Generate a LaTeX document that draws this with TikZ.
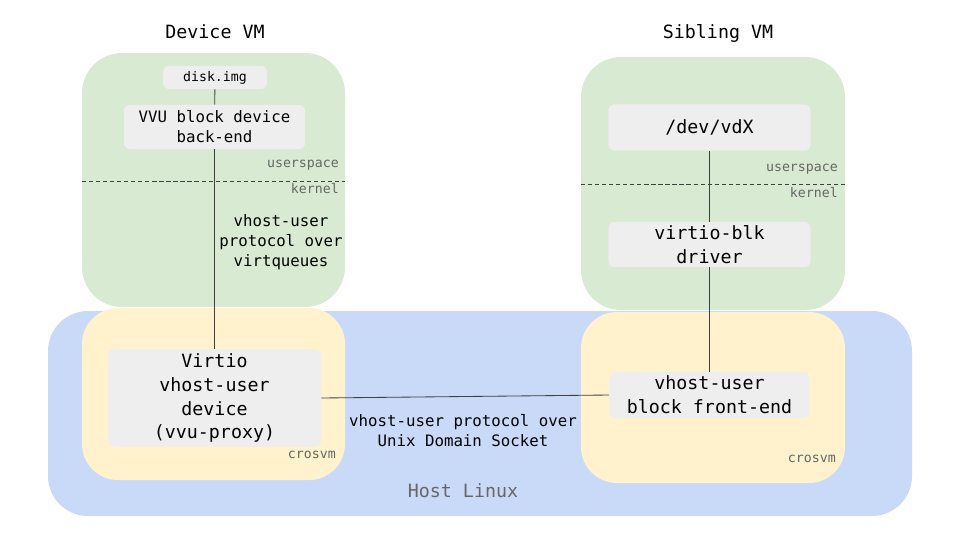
\documentclass[tikz,border=0pt]{standalone}
\usepackage{fontspec}
\setmainfont{DejaVu Sans Mono}
\definecolor{vmgreen}{HTML}{D9EAD3}
\definecolor{crosvmyellow}{HTML}{FFF2CC}
\definecolor{hostblue}{HTML}{C9DAF8}
\definecolor{blockgrey}{HTML}{EEEEEE}
\definecolor{labelgrey}{HTML}{666666}
\definecolor{linkgrey}{HTML}{404040}
\newcommand{\diagbig}{\fontsize{13}{17}\selectfont}
\newcommand{\diagmid}{\fontsize{11.2}{14.2}\selectfont}
\newcommand{\diagsmall}{\fontsize{9.4}{11}\selectfont}
\tikzstyle{vmbox}=[fill=vmgreen, rounded corners=1cm]
\tikzstyle{crosvmbox}=[fill=crosvmyellow, rounded corners=0.9cm]
\tikzstyle{hostbox}=[fill=hostblue, rounded corners=1cm]
\tikzstyle{block}=[fill=blockgrey, rounded corners=0.15cm, inner sep=0pt, align=center]
\tikzstyle{link}=[draw=linkgrey, line width=0.6pt]
\tikzstyle{layer}=[text=labelgrey, font=\diagsmall, anchor=east, inner sep=0pt]
\tikzstyle{divider}=[draw=linkgrey, dash pattern=on 3pt off 2pt, line width=0.5pt]

\begin{document}
\begin{tikzpicture}[x=0.025cm, y=-0.025cm]
	\useasboundingbox (0,0) rectangle (960,540);
	% VMs
	\fill[vmbox] (82,53) rectangle (345,307);
	\fill[vmbox] (581,57) rectangle (845,310);
	% host and crosvm
	\fill[hostbox] (48,311) rectangle (912,516);
	\fill[crosvmbox] (82,308) rectangle (345,480);
	\fill[crosvmbox] (581,312) rectangle (845,483);
	% userspace / kernel split
	\coordinate (devsplitL) at (82,181);
	\coordinate (devsplitR) at (345,181);
	\coordinate (sibsplitL) at (581,184);
	\coordinate (sibsplitR) at (845,184);
	\draw[divider] (devsplitL) -- (devsplitR);
	\draw[divider] (sibsplitL) -- (sibsplitR);

	\node[font=\diagbig] (devtitle) at (215,32) {Device VM};
	\node[font=\diagbig] (sibtitle) at (718,33) {Sibling VM};

	\node[block, font=\diagsmall, minimum width=2.6cm, minimum height=0.575cm] (disk) at (215,77.5) {disk.img};
	\node[block, font=\diagmid, minimum width=4.525cm, minimum height=1.1cm] (vvu) at (214.5,127) {VVU block device\\back-end};
	\node[block, font=\diagbig, minimum width=5.325cm, minimum height=2.425cm] (virtio) at (214.5,398) {Virtio\\vhost-user\\device\\(vvu-proxy)};

	\node[block, font=\diagbig, minimum width=5.05cm, minimum height=1.15cm] (devx) at (709.5,127.5) {/dev/vdX};
	\node[block, font=\diagbig, minimum width=5.05cm, minimum height=1.125cm] (blk) at (709.5,244.5) {virtio-blk\\driver};
	\node[block, font=\diagbig, minimum width=5cm, minimum height=1.15cm] (front) at (709.5,395) {vhost-user\\block front-end};

	\node[layer] (devuser) at (339,165) {userspace};
	\node[layer] (devkernel) at (339,189) {kernel};
	\node[layer] (sibuser) at (838,169) {userspace};
	\node[layer] (sibkernel) at (838,193) {kernel};
	\node[layer] (devcrosvm) at (336,455) {crosvm};
	\node[layer] (sibcrosvm) at (836,459) {crosvm};
	\node[text=labelgrey, font=\diagbig] (host) at (463,491) {Host Linux};

	\node[font=\diagmid, align=center] (vqlabel) at (281,242) {vhost-user\\protocol over\\virtqueues};
	\node[font=\diagmid, align=center] (udslabel) at (463,431) {vhost-user protocol over\\Unix Domain Socket};

	\draw[link] (disk) -- (vvu);
	\draw[link] (vvu) -- (virtio);
	\draw[link] (devx) -- (blk);
	\draw[link] (blk) -- (front);
	\draw[link] (virtio.east) -- (front.west);
\end{tikzpicture}
\end{document}
